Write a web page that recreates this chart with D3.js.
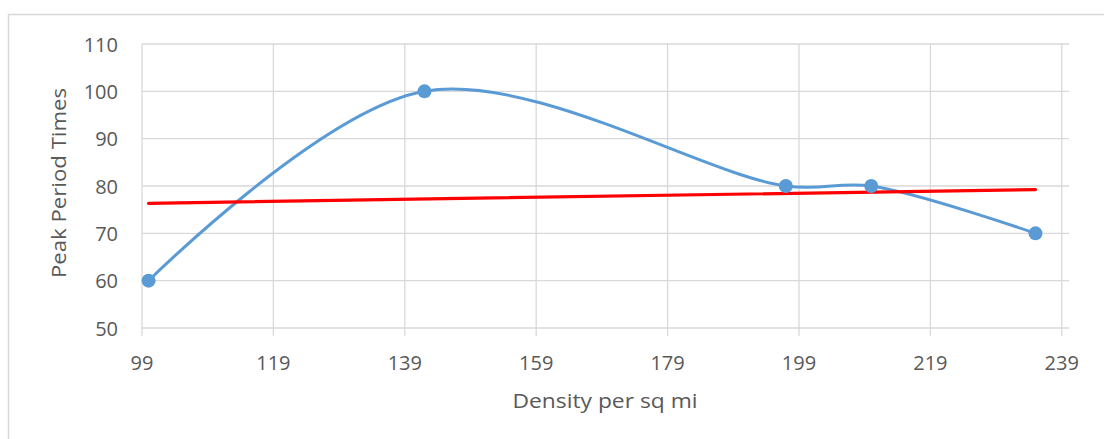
<!DOCTYPE html>
<html>
<head>
<meta charset="utf-8">
<script src="https://cdn.jsdelivr.net/npm/d3@7"></script>
<style>
  html, body { margin: 0; padding: 0; background: #fff; }
  svg { display: block; }
  text { font-family: "Open Sans", sans-serif; fill: #595959; }
</style>
</head>
<body>
<svg id="chart" width="1104" height="439"></svg>
<script>
// Density (per sq mi) against peak period times
const density = [100, 142, 197, 210, 235];
const peakTimes = [60, 100, 80, 80, 70];
const xTicks = [99, 119, 139, 159, 179, 199, 219, 239];
const yTicks = [50, 60, 70, 80, 90, 100, 110];

const svg = d3.select("#chart");
const W = 1104, H = 439;

// outer chart border (runs off the right and bottom edges)
svg.append("rect")
  .attr("x", 8.5).attr("y", 14.5)
  .attr("width", W + 20).attr("height", H + 20)
  .attr("fill", "#fff").attr("stroke", "#d9d9d9").attr("stroke-width", 1.5);

const plot = { left: 142, right: 1069, top: 44, bottom: 328 };

const x = d3.scaleLinear().domain([99, 240.1]).range([plot.left, plot.right]);
const y = d3.scaleLinear().domain([50, 110]).range([plot.bottom, plot.top]);

const grid = svg.append("g");
// horizontal gridlines
grid.selectAll("line.h").data(yTicks).join("line")
  .attr("x1", plot.left).attr("x2", plot.right)
  .attr("y1", d => y(d)).attr("y2", d => y(d))
  .attr("stroke", "#d9d9d9").attr("stroke-width", 1.3);
// vertical gridlines, extended below the axis as tick marks
grid.selectAll("line.v").data(xTicks).join("line")
  .attr("x1", d => x(d)).attr("x2", d => x(d))
  .attr("y1", plot.top).attr("y2", plot.bottom + 8)
  .attr("stroke", "#d9d9d9").attr("stroke-width", 1.3);

// axis tick labels
svg.append("g").selectAll("text").data(yTicks).join("text")
  .attr("x", 118).attr("y", d => y(d))
  .attr("text-anchor", "end").attr("dominant-baseline", "central")
  .style("font-size", "20px")
  .text(d => d);

svg.append("g").selectAll("text").data(xTicks).join("text")
  .attr("x", d => x(d)).attr("y", 362)
  .attr("text-anchor", "middle").attr("dominant-baseline", "central")
  .style("font-size", "20px")
  .text(d => d);

// axis titles
svg.append("text")
  .attr("x", 605).attr("y", 400)
  .attr("text-anchor", "middle").attr("dominant-baseline", "central")
  .attr("textLength", 185).attr("lengthAdjust", "spacingAndGlyphs")
  .style("font-size", "20px")
  .text("Density per sq mi");

svg.append("text")
  .attr("transform", "translate(58,183) rotate(-90)")
  .attr("text-anchor", "middle").attr("dominant-baseline", "central")
  .attr("textLength", 190).attr("lengthAdjust", "spacingAndGlyphs")
  .style("font-size", "20px")
  .text("Peak Period Times");

// smoothed series line
const pts = density.map((d, i) => [d, peakTimes[i]]);
const line = d3.line().x(d => x(d[0])).y(d => y(d[1])).curve(d3.curveCatmullRom.alpha(0.5));
svg.append("path")
  .attr("d", line(pts))
  .attr("fill", "none").attr("stroke", "#5b9bd5").attr("stroke-width", 3)
  .attr("stroke-linecap", "round");

// linear trendline (least squares fit)
const mx = d3.mean(density), my = d3.mean(peakTimes);
const slope = d3.sum(density, (d, i) => (d - mx) * (peakTimes[i] - my)) /
              d3.sum(density, d => (d - mx) ** 2);
const icpt = my - slope * mx;
const [x0, x1] = d3.extent(density);
svg.append("line")
  .attr("x1", x(x0)).attr("y1", y(icpt + slope * x0))
  .attr("x2", x(x1)).attr("y2", y(icpt + slope * x1))
  .attr("stroke", "#ff0000").attr("stroke-width", 3.2).attr("stroke-linecap", "round");

// markers
svg.append("g").selectAll("circle").data(pts).join("circle")
  .attr("cx", d => x(d[0])).attr("cy", d => y(d[1])).attr("r", 7)
  .attr("fill", "#5b9bd5");
</script>
</body>
</html>
